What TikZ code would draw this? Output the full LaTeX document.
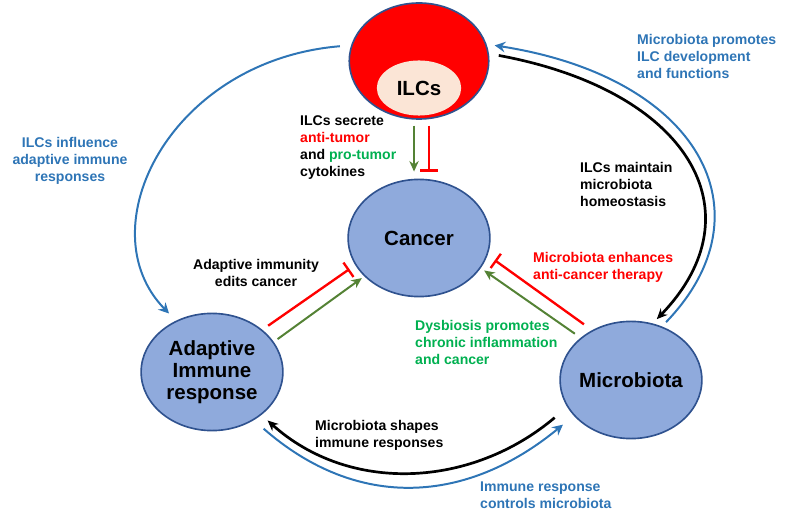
\documentclass[tikz,border=0pt]{standalone}
\usepackage{fontspec}
\setmainfont{Liberation Sans}
\usetikzlibrary{shapes.geometric, arrows.meta, positioning}

\definecolor{cellfill}{HTML}{8FAADC}
\definecolor{cellline}{HTML}{2F528F}
\definecolor{ilcfill}{HTML}{FBE5D6}
\definecolor{linkblue}{HTML}{2E75B6}
\definecolor{actgreen}{HTML}{548235}
\definecolor{protext}{HTML}{00B050}

\begin{document}
\begin{tikzpicture}[x=0.03cm, y=-0.03cm,
    font=\bfseries\fontsize{12}{14.5}\selectfont,
    cell/.style={ellipse, draw=cellline, line width=1.4pt, fill=cellfill, inner sep=-4pt,
        minimum width=121pt, minimum height=100pt, align=center,
        font=\bfseries\fontsize{17.5}{19}\selectfont},
    note/.style={inner sep=0pt, align=left, anchor=west},
    act/.style={-{Stealth[length=9pt,width=8pt]}, line width=1.7pt, draw=actgreen},
    inhib/.style={-{Bar[width=15pt]}, line width=2pt, draw=red},
    feed/.style={-{Stealth[length=9pt,width=9pt,inset=3pt]}, line width=1.7pt, draw=linkblue},
    back/.style={-{Stealth[length=9pt,width=8pt]}, line width=2.3pt, draw=black}]
    \useasboundingbox (0,0) rectangle (800,515);

    \node[ellipse, draw=cellline, line width=1.4pt, fill=red, inner sep=0pt,
        minimum width=119pt, minimum height=99pt] (ilc) at (419,61) {};
    \node[ellipse, fill=ilcfill, inner sep=0pt, minimum width=72pt, minimum height=47pt,
        font=\bfseries\fontsize{17.5}{19}\selectfont] (core) at (419,88) {ILCs};
    \node[cell] (cancer) at (419,238) {Cancer};
    \node[cell] (adapt) at (212,372) {Adaptive\\Immune\\response};
    \node[cell] (micro) at (631,380) {Microbiota};

    % ILCs -> cancer
    \draw[act, shorten <=5pt, shorten >=6pt] ([xshift=-4.25pt]ilc.south) -- ([xshift=-4.25pt]cancer.north);
    \draw[inhib, shorten <=5pt, shorten >=6pt] ([xshift=8.5pt]ilc.south) -- ([xshift=8.5pt]cancer.north);

    % adaptive response and microbiota -> cancer
    \draw[inhib, shorten <=6pt, shorten >=6pt] (adapt.40) -- (cancer.203);
    \draw[act, shorten <=4pt, shorten >=2.5pt] (adapt.26) -- (cancer.215);
    \draw[inhib, shorten <=8.5pt, shorten >=7.5pt] (micro.128) -- (cancer.346);
    \draw[act, shorten <=6pt, shorten >=3.5pt] (micro.140) -- (cancer.334);

    % outer loop
    \draw[feed, shorten <=9.5pt, shorten >=8.5pt] (ilc.167) .. controls +(-181,15) and +(-90,-92) .. (adapt.125);
    \draw[feed, shorten <=5pt, shorten >=7pt] (micro.60) .. controls +(110,-114) and +(213,33) .. (ilc.14);
    \draw[back, shorten <=8.5pt, shorten >=5pt] (ilc.6) .. controls +(200,37) and +(107,-111) .. (micro.69);
    \draw[back, shorten <=14pt, shorten >=7pt] (micro.203) .. controls +(-96,81) and +(88,79) .. (adapt.319);
    \draw[feed, shorten <=11pt, shorten >=12pt] (adapt.311) .. controls +(104,91) and +(-107,88) .. (micro.212);

    % labels
    \node[note] (secrete) at (300,148) {ILCs secrete\\\textcolor{red}{anti-tumor}\\and \textcolor{protext}{pro-tumor}\\cytokines};
    \node[note, text=linkblue, align=center, anchor=center] (influence) at (70,161) {ILCs influence\\adaptive immune\\responses};
    \node[note, text=linkblue] (promote) at (637,56) {Microbiota promotes\\ILC development\\and functions};
    \node[note] (maintain) at (580,184) {ILCs maintain\\microbiota\\homeostasis};
    \node[note, text=red] (enhance) at (533,267) {Microbiota enhances\\anti-cancer therapy};
    \node[note, text=protext] (dysbiosis) at (415,342) {Dysbiosis promotes\\chronic inflammation\\and cancer};
    \node[note, align=center, anchor=center] (edits) at (256,273) {Adaptive immunity\\edits cancer};
    \node[note] (shapes) at (315,435) {Microbiota shapes\\immune responses};
    \node[note, text=linkblue] (controls) at (480,495) {Immune response\\controls microbiota};
\end{tikzpicture}
\end{document}
